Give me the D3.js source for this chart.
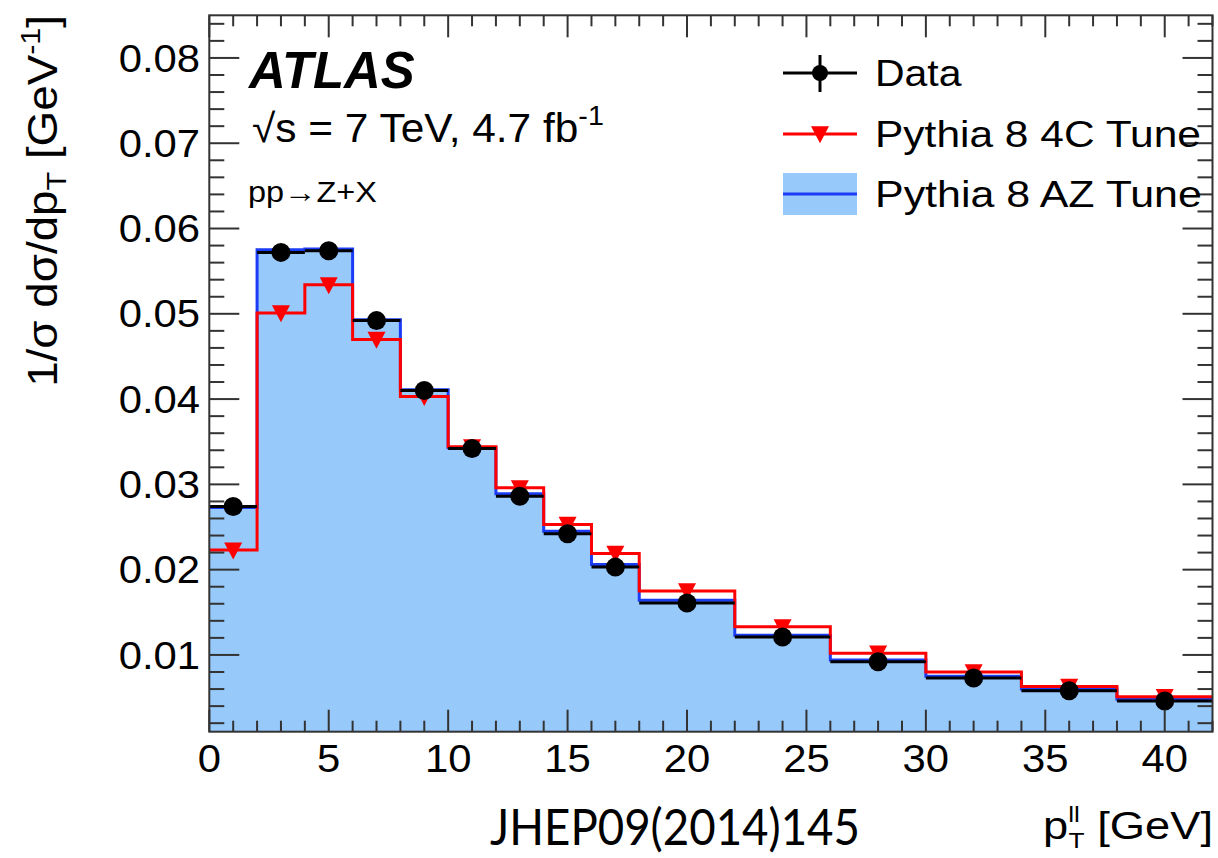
<!DOCTYPE html>
<html><head><meta charset="utf-8">
<script src="https://cdn.jsdelivr.net/npm/d3@7"></script>
<style>html,body{margin:0;padding:0;background:#fff;} svg{display:block;}</style>
</head><body>
<svg id="c" width="1218" height="858"></svg>
<script>
// ---- data ----
const binEdges = [0,2,4,6,8,10,12,14,16,18,22,26,30,34,38,42];
const dataValues = [0.0274,0.0572,0.0574,0.0492,0.0410,0.0342,0.0286,0.0242,0.0203,0.0161,0.0121,0.0092,0.0073,0.0058,0.0046];
const tune4C = [0.0223,0.0501,0.0534,0.0470,0.0403,0.0344,0.0296,0.0253,0.0219,0.0175,0.0133,0.0102,0.0080,0.0063,0.0051];
const tuneAZ = [0.0273,0.0575,0.0576,0.0493,0.0411,0.0343,0.0289,0.0245,0.0206,0.0164,0.0123,0.0094,0.0075,0.0060,0.0048];
const xTickValues = [0,5,10,15,20,25,30,35,40];
const xTickLabels = ["0","5","10","15","20","25","30","35","40"];
const yTickValues = [0.01,0.02,0.03,0.04,0.05,0.06,0.07,0.08];
const yTickLabels = ["0.01","0.02","0.03","0.04","0.05","0.06","0.07","0.08"];
const legendLabels = ["Data","Pythia 8 4C Tune","Pythia 8 AZ Tune"];

const svg = d3.select("#c");
const x = d3.scaleLinear().domain([0,42]).range([209.3,1212.5]);
const y = d3.scaleLinear().domain([0.001,0.085]).range([731.7,15.3]);
const FONT = "'Liberation Sans', Arial, Helvetica, sans-serif";
const FILL = "#98c9fb", BLUE = "#1a3cf5", RED = "#ff0000";
const SX = 1.1;

svg.append("defs").append("clipPath").attr("id","pc")
  .append("rect").attr("x",x(0)).attr("y",y(0.085)).attr("width",x(42)-x(0)).attr("height",y(0.001)-y(0.085));

function stepPts(vals){ const p = vals.map((v,i)=>[binEdges[i],v]); p.push([binEdges[binEdges.length-1], vals[vals.length-1]]); return p; }

const g = svg.append("g").attr("clip-path","url(#pc)");
// AZ fill + line
g.append("path").datum(stepPts(tuneAZ))
  .attr("d", d3.area().curve(d3.curveStepAfter).x(d=>x(d[0])).y0(y(0.001)).y1(d=>y(d[1])))
  .attr("fill",FILL);
g.append("path").datum(stepPts(tuneAZ))
  .attr("d", d3.line().curve(d3.curveStepAfter).x(d=>x(d[0])).y(d=>y(d[1])))
  .attr("fill","none").attr("stroke",BLUE).attr("stroke-width",3);
// 4C line
g.append("path").datum(stepPts(tune4C))
  .attr("d", d3.line().curve(d3.curveStepAfter).x(d=>x(d[0])).y(d=>y(d[1])))
  .attr("fill","none").attr("stroke",RED).attr("stroke-width",3);
// 4C markers (down triangles)
const tri = (cx,cy,s)=>`M${cx-s*0.53},${cy-s*0.45}L${cx+s*0.53},${cy-s*0.45}L${cx},${cy+s*0.55}Z`;
g.selectAll("path.t4c").data(tune4C).join("path").attr("class","t4c")
  .attr("d",(v,i)=>tri(x((binEdges[i]+binEdges[i+1])/2), y(v), 17)).attr("fill",RED);
// data horizontal bars
g.selectAll("line.dh").data(dataValues).join("line").attr("class","dh")
  .attr("x1",(v,i)=>x(binEdges[i])).attr("x2",(v,i)=>x(binEdges[i+1]))
  .attr("y1",v=>y(v)).attr("y2",v=>y(v)).attr("stroke","#000").attr("stroke-width",3);
g.selectAll("circle.dp").data(dataValues).join("circle").attr("class","dp")
  .attr("cx",(v,i)=>x((binEdges[i]+binEdges[i+1])/2)).attr("cy",v=>y(v)).attr("r",9.5).attr("fill","#000");

// ---- frame & ticks ----
const ax = svg.append("g").attr("stroke","#333").attr("stroke-width",2);
const minorX = d3.range(0,43,1), minorY = d3.range(1,43).map(k=>k*0.002);
const X0=x(0),X1=x(42),Y0=y(0.001),Y1=y(0.085);
minorX.forEach(v=>{
  const L = (v%5===0)?22:11;
  ax.append("line").attr("x1",x(v)).attr("x2",x(v)).attr("y1",Y0).attr("y2",Y0-L);
  ax.append("line").attr("x1",x(v)).attr("x2",x(v)).attr("y1",Y1).attr("y2",Y1+L);
});
minorY.forEach((v,k)=>{
  const L = ((k+1)%5===0)?30:15;
  ax.append("line").attr("x1",X0).attr("x2",X0+L).attr("y1",y(v)).attr("y2",y(v));
  ax.append("line").attr("x1",X1).attr("x2",X1-L).attr("y1",y(v)).attr("y2",y(v));
});
ax.append("rect").attr("x",X0).attr("y",Y1).attr("width",X1-X0).attr("height",Y0-Y1).attr("fill","none");

// tick labels
const tl = svg.append("g").attr("font-family",FONT).attr("font-size",38).attr("fill","#000");
yTickValues.forEach((v,i)=>{
  tl.append("text").attr("transform",`translate(200,${y(v)}) scale(${SX},1)`)
    .attr("text-anchor","end").attr("dy","0.36em").text(yTickLabels[i]);
});
xTickValues.forEach((v,i)=>{
  tl.append("text").attr("transform",`translate(${x(v)},772) scale(${SX},1)`)
    .attr("text-anchor","middle").text(xTickLabels[i]);
});

function fit(t, w, px, py, extra){ const bb=t.node().getBBox(); const s=w/bb.width; t.attr("transform",`translate(${px},${py}) ${extra||""} scale(${s},1)`); }

// x title
const xt = svg.append("text").attr("font-family",FONT).attr("font-size",38).attr("text-anchor","end");
xt.append("tspan").text("p");
xt.append("tspan").attr("font-size",22).attr("dy",-17).text("ll");
xt.append("tspan").attr("font-size",22).attr("dx",-9.5).attr("dy",26).text("T");
xt.append("tspan").attr("dy",-9).text(" [GeV]");
fit(xt,170,1213,839);

// y title
const yt = svg.append("text").attr("font-family",FONT).attr("font-size",42).attr("text-anchor","end");
yt.append("tspan").text("1/σ dσ/dp");
yt.append("tspan").attr("font-size",28).attr("dy",9).text("T");
yt.append("tspan").attr("dy",-9).text(" [GeV");
yt.append("tspan").attr("font-size",28).attr("dy",-17).text("-1");
yt.append("tspan").attr("dy",17).text("]");
fit(yt,372,57,15,"rotate(-90)");

// ATLAS labels
const at = svg.append("text").attr("font-family",FONT).attr("font-size",52).attr("font-weight","bold").attr("font-style","italic").text("ATLAS");
fit(at,168,249,88);
const st = svg.append("text").attr("font-family",FONT).attr("font-size",40);
st.append("tspan").text("√s = 7 TeV, 4.7 fb");
st.append("tspan").attr("font-size",27).attr("dy",-17).text("-1");
fit(st,352,252,142);
const pt = svg.append("text").attr("font-family",FONT).attr("font-size",29).text("pp→Z+X");
fit(pt,129,248,202);

// legend
const lg = svg.append("g");
const lx1=783, lx2=857, lcx=820, rows=[73,134,194];
lg.append("line").attr("x1",lx1).attr("x2",lx2).attr("y1",rows[0]).attr("y2",rows[0]).attr("stroke","#000").attr("stroke-width",3);
lg.append("line").attr("x1",lcx).attr("x2",lcx).attr("y1",rows[0]-18).attr("y2",rows[0]+19).attr("stroke","#000").attr("stroke-width",3);
lg.append("circle").attr("cx",lcx).attr("cy",rows[0]).attr("r",8).attr("fill","#000");
lg.append("line").attr("x1",lx1).attr("x2",lx2).attr("y1",rows[1]).attr("y2",rows[1]).attr("stroke",RED).attr("stroke-width",3);
lg.append("path").attr("d",tri(lcx,rows[1],17)).attr("fill",RED);
lg.append("rect").attr("x",lx1).attr("y",173).attr("width",lx2-lx1).attr("height",42).attr("fill",FILL);
lg.append("line").attr("x1",lx1).attr("x2",lx2).attr("y1",rows[2]).attr("y2",rows[2]).attr("stroke",BLUE).attr("stroke-width",3);
const lw=[87,326,327];
legendLabels.forEach((s,i)=>{
  const t = lg.append("text").attr("font-family",FONT).attr("font-size",37).text(s);
  fit(t,lw[i],875,rows[i]+13);
});

// reference tag
const jt = svg.append("text").attr("font-family","Lato, 'Open Sans', sans-serif").attr("font-size",50).attr("text-anchor","middle").text("JHEP09(2014)145");
fit(jt,370,675,845);
</script>
</body></html>
